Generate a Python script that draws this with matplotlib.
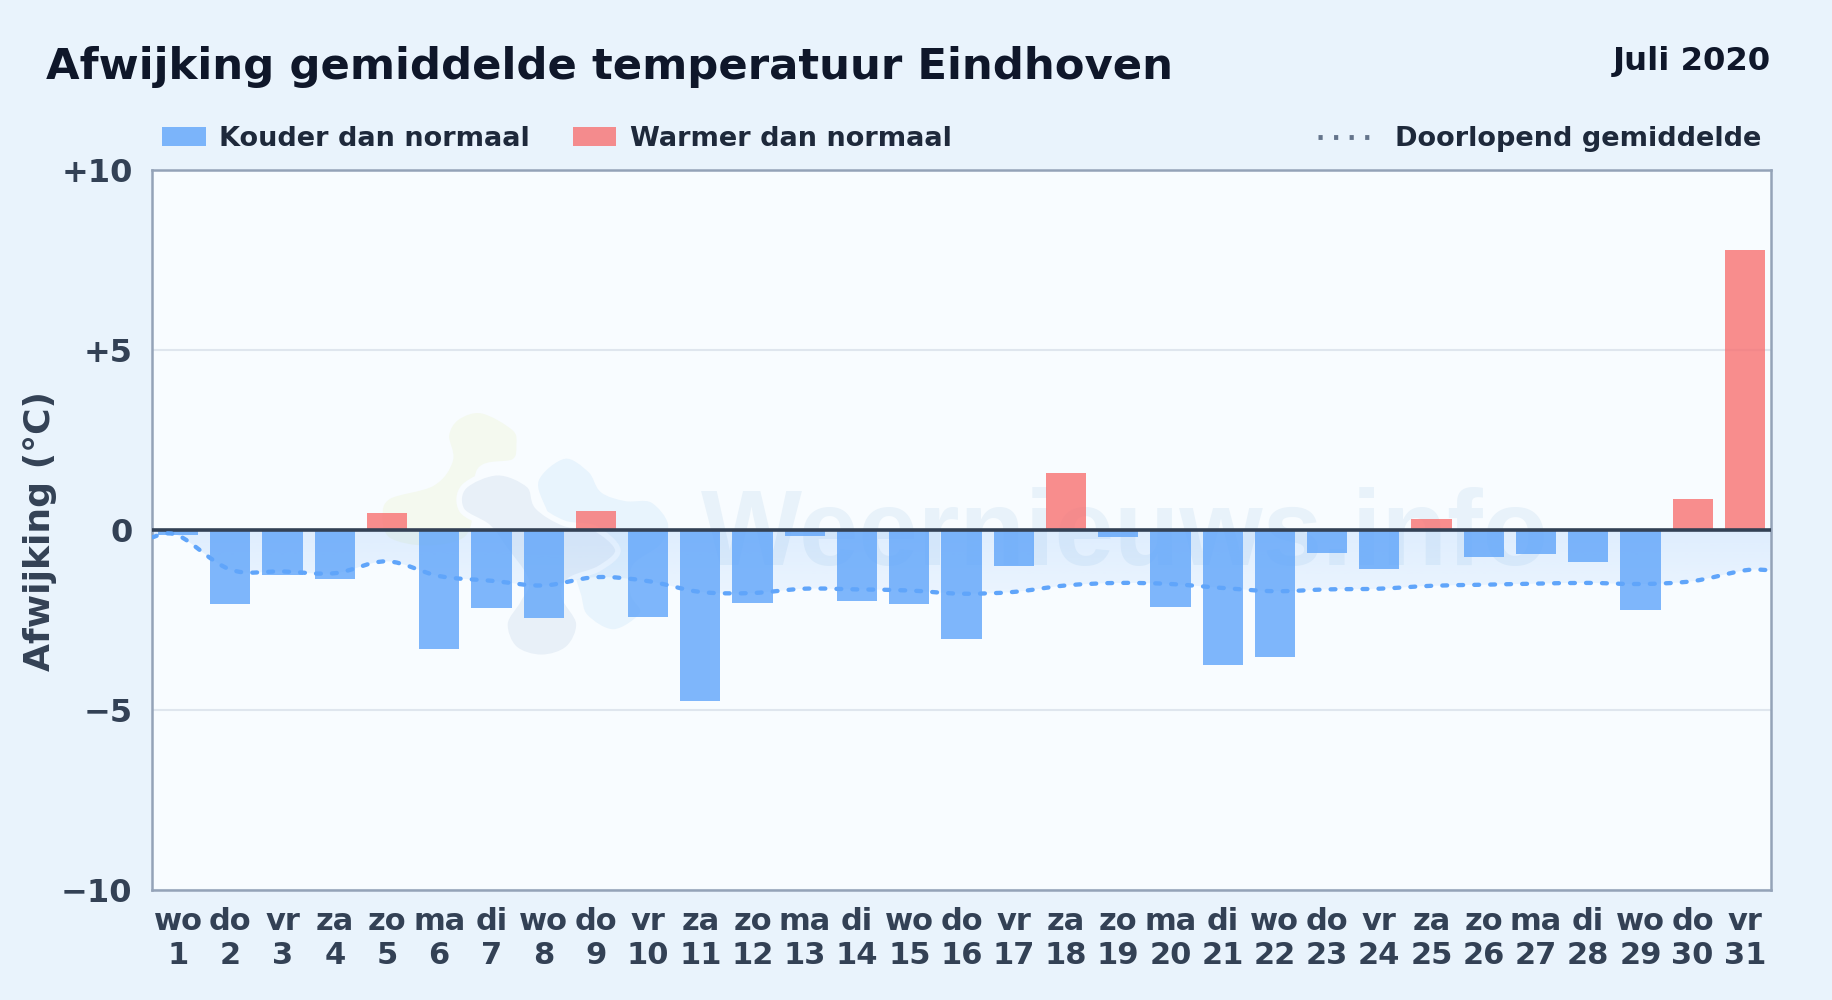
import matplotlib
matplotlib.use("Agg")
import matplotlib.pyplot as plt
import numpy as np
from matplotlib.patches import PathPatch, Rectangle
from matplotlib.path import Path
from matplotlib.lines import Line2D
from matplotlib.transforms import Affine2D

plt.rcParams['font.family'] = ['DejaVu Sans']
plt.rcParams['lines.scale_dashes'] = False

weekdays = ["wo","do","vr","za","zo","ma","di","wo","do","vr","za","zo","ma","di","wo","do",
            "vr","za","zo","ma","di","wo","do","vr","za","zo","ma","di","wo","do","vr"]
days = list(range(1, 32))
deviation = [-0.15,-2.05,-1.25,-1.35,0.47,-3.30,-2.17,-2.44,0.53,-2.42,-4.75,-2.02,-0.16,-1.96,-2.05,
             -3.03,-1.00,1.57,-0.20,-2.15,-3.74,-3.52,-0.63,-1.07,0.31,-0.74,-0.66,-0.88,-2.21,0.86,7.78]
running_mean = [-0.15,-1.10,-1.15,-1.20,-0.87,-1.28,-1.41,-1.54,-1.31,-1.42,-1.72,-1.75,-1.63,-1.65,-1.68,
                -1.77,-1.72,-1.54,-1.47,-1.50,-1.61,-1.70,-1.65,-1.63,-1.55,-1.52,-1.49,-1.47,-1.50,-1.42,-1.12]
y_ticks = [-10, -5, 0, 5, 10]
y_tick_labels = ["\u221210", "\u22125", "0", "+5", "+10"]

W, H = 1832, 1000
BG = "#e9f3fc"
fig = plt.figure(figsize=(W/100, H/100), dpi=100, facecolor=BG)
L, R, T, B = 152, 1771, 170, 890
ax = fig.add_axes([L/W, 1-B/H, (R-L)/W, (B-T)/H])
ax.set_xlim(0.5, 31.5)
ax.set_ylim(-10, 10)

# pixel coordinates (y down) for decoration and header
px = Affine2D().scale(1, -1).translate(0, H)

def smooth_closed(points):
    p = np.array(points, float)
    n = len(p)
    verts = [p[0]]
    codes = [Path.MOVETO]
    for i in range(n):
        p0, p1, p2, p3 = p[i-1], p[i], p[(i+1) % n], p[(i+2) % n]
        verts += [p1+(p2-p0)/6, p2-(p3-p1)/6, p2]
        codes += [Path.CURVE4]*3
    return Path(verts, codes)

def zoomed(pts):
    return [(350+x/2.613, 380+y/3) for x, y in pts]

green = zoomed([(345,92),(430,145),(442,195),(428,245),(340,270),(330,400),(300,480),(200,505),(100,480),
                (78,410),(100,350),(215,310),(262,240),(252,165),(280,112)])
blue = zoomed([(560,228),(628,270),(660,330),(720,355),(790,360),(838,430),(815,500),(745,560),(740,640),
               (765,700),(690,756),(615,710),(595,640),(560,520),(510,400),(486,300)])
grey = zoomed([(385,278),(467,315),(490,380),(560,430),(640,445),(700,510),(652,565),(575,600),(560,650),
               (598,730),(570,805),(500,832),(430,805),(405,730),(440,660),(460,600),(400,500),(360,440),
               (292,390),(298,320)])
fig.add_artist(Rectangle((L, T), R-L, B-T, transform=px, fc="#f8fcff", ec="none", zorder=1.1))
for blob, c in ((green, "#f4f9ef"), (blue, "#e8f4fd"), (grey, "#e8f0f8")):
    fig.add_artist(PathPatch(smooth_closed(blob), transform=px, fc=c, ec="#f8fcff", lw=4, zorder=1.2))

ax.patch.set_visible(False)
ax.set_zorder(2)
fig.text(701/W, 1-565/H, "Weernieuws.info", fontsize=77, color="#e8f2fa", zorder=1.3, ha="left", va="baseline",
         family="Liberation Sans", fontweight="bold")

# running mean curve through the data points, extended flat to the plot edges
xs = np.array(days, float)
ys = np.array(running_mean, float)
xe = np.r_[0.5, xs, 31.5]
ye = np.r_[ys[0]-0.05, ys, ys[-1]]
verts = [(xe[0], ye[0])]
codes = [Path.MOVETO]
pts = np.c_[xe, ye]
for i in range(len(pts)-1):
    p0 = pts[max(i-1, 0)]; p1 = pts[i]; p2 = pts[i+1]; p3 = pts[min(i+2, len(pts)-1)]
    verts += [tuple(p1+(p2-p0)/6), tuple(p2-(p3-p1)/6), tuple(p2)]
    codes += [Path.CURVE4]*3
curve = Path(verts, codes)
area = Path(verts+[(31.5, 0), (0.5, 0), (0.5, ye[0]), (0.5, ye[0])],
            codes+[Path.LINETO, Path.LINETO, Path.LINETO, Path.CLOSEPOLY])
clip = PathPatch(area, fc="none", ec="none", transform=ax.transData)
ax.add_patch(clip)
grad = np.zeros((64, 2, 4))
grad[..., :3] = matplotlib.colors.to_rgb("#60a5fa")
grad[..., 3] = np.linspace(0.17, 0.07, 64)[:, None]
im = ax.imshow(grad, extent=(0.5, 31.5, -2.2, 0), origin="upper", aspect="auto", zorder=1,
               interpolation="bilinear")
im.set_clip_path(clip)
ax.set_xlim(0.5, 31.5)
ax.set_ylim(-10, 10)

ax.set_axisbelow(True)
ax.set_yticks(y_ticks, y_tick_labels)
ax.grid(axis="y", color="#dfe6ee", lw=1.5, zorder=0.5)
ax.set_xticks(days, [f"{w}\n{d}" for w, d in zip(weekdays, days)])
ax.tick_params(axis="both", length=0, labelcolor="#334155")
ax.tick_params(axis="y", pad=14, labelsize=23)
ax.tick_params(axis="x", pad=12.5, labelsize=22)
for lab in ax.get_xticklabels():
    lab.set_fontweight("bold")
    lab.set_linespacing(1.22)
for lab in ax.get_yticklabels():
    lab.set_fontweight("bold")

dev = np.array(deviation)
ax.bar(xs[dev < 0], dev[dev < 0], width=0.77, color="#60a5fa", alpha=0.8, zorder=2)
ax.bar(xs[dev >= 0], dev[dev >= 0], width=0.77, color="#f87171", alpha=0.8, zorder=2)
ax.axhline(0, color="#334155", lw=2.6, zorder=3)
ax.add_patch(PathPatch(curve, fc="none", ec="#60a5fa", lw=3.1, linestyle=(0, (3.5, 8)),
                       capstyle="round", zorder=4))
for s in ax.spines.values():
    s.set_color("#94a3b8")
    s.set_linewidth(1.8)

fig.text(40/W, 1-531/H, "Afwijking (\u00b0C)", rotation=90, ha="center", va="center",
         fontsize=26, fontweight="bold", color="#334155")

# header
fig.text(46/W, 1-79/H, "Afwijking gemiddelde temperatuur Eindhoven", fontsize=31.2, fontweight="bold",
         color="#0f172a", ha="left", va="baseline")
fig.text(1771/W, 1-70/H, "Juli 2020", fontsize=23.2, fontweight="bold", color="#0f172a", ha="right", va="baseline")

# legend
def swatch(x0, x1, color):
    fig.add_artist(Rectangle((x0, 127), x1-x0, 19, transform=px, fc=color, alpha=0.8, ec="none"))
def label(x, s):
    fig.text(x/W, 1-146/H, s, fontsize=19.5, fontweight="bold", color="#1e293b", ha="left", va="baseline")
swatch(162, 206, "#60a5fa"); label(219, "Kouder dan normaal")
swatch(573, 616, "#f87171"); label(630, "Warmer dan normaal")
fig.add_artist(Line2D([1318, 1376], [136.7, 136.7], transform=px, color="#64748b", lw=3.5,
                      linestyle=(0, (3, 8.2))))
label(1395, "Doorlopend gemiddelde")

fig.savefig("out.png", dpi=100, facecolor=BG)
